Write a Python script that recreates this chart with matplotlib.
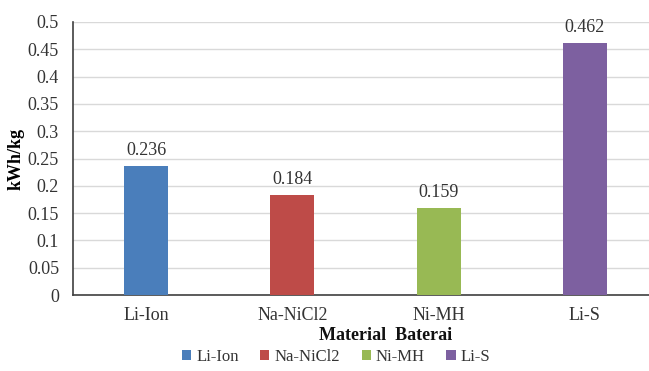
import matplotlib
matplotlib.use("Agg")
import matplotlib.pyplot as plt
from matplotlib.patches import Patch

categories = ["Li-Ion", "Na-NiCl2", "Ni-MH", "Li-S"]
values = [0.236, 0.184, 0.159, 0.462]
colors = ["#4a7ebb", "#be4b48", "#98b954", "#7d60a0"]
yticks = [0, 0.05, 0.1, 0.15, 0.2, 0.25, 0.3, 0.35, 0.4, 0.45, 0.5]
ytick_labels = ["0", "0.05", "0.1", "0.15", "0.2", "0.25", "0.3", "0.35", "0.4", "0.45", "0.5"]

serif = ["Liberation Serif", "DejaVu Serif"]
plt.rcParams["font.family"] = serif

fig = plt.figure(figsize=(6.49, 3.71), dpi=100)
W, H = 649, 371
left, right, top, bottom = 73, 658, 22, 295
ax = fig.add_axes([left / W, 1 - bottom / H, (right - left) / W, (bottom - top) / H])

x = list(range(len(categories)))
ax.bar(x, values, width=0.30, color=colors, zorder=3)
for xi, v in zip(x, values):
    ax.annotate(f"{v:g}", (xi, v), xytext=(0, 5), textcoords="offset points",
                ha="center", va="bottom", fontsize=13, color="#333333")

ax.set_xlim(-0.5, 3.5)
ax.set_ylim(0, 0.5)
ax.set_yticks(yticks)
ax.set_yticklabels(ytick_labels)
ax.set_xticks(x)
ax.set_xticklabels(categories)
ax.tick_params(axis="both", length=0, labelsize=13, colors="#333333")
ax.tick_params(axis="y", pad=10)
ax.tick_params(axis="x", pad=9)
ax.grid(axis="y", color="#d9d9d9", linewidth=1, zorder=0)
for s in ["top", "right"]:
    ax.spines[s].set_visible(False)
for s in ["left", "bottom"]:
    ax.spines[s].set_color("#404040")
    ax.spines[s].set_linewidth(1.2)

ax.set_ylabel("kWh/kg", fontsize=13, fontweight="bold", labelpad=2)
fig.text(386 / W, 1 - 336 / H, "Material  Baterai", ha="center", va="center",
         fontsize=13, fontweight="bold", color="#111111")

handles = [Patch(facecolor=c, label=l) for c, l in zip(colors, categories)]
leg = fig.legend(handles=handles, loc="center", bbox_to_anchor=(336 / W, 1 - 357 / H),
                 ncol=4, frameon=False, fontsize=12,
                 handlelength=0.55, handleheight=0.55, handletextpad=0.3, columnspacing=1.3)
for t in leg.get_texts():
    t.set_fontfamily("Liberation Serif")
    t.set_color("#333333")

fig.savefig("out.png", dpi=100, facecolor="white")
